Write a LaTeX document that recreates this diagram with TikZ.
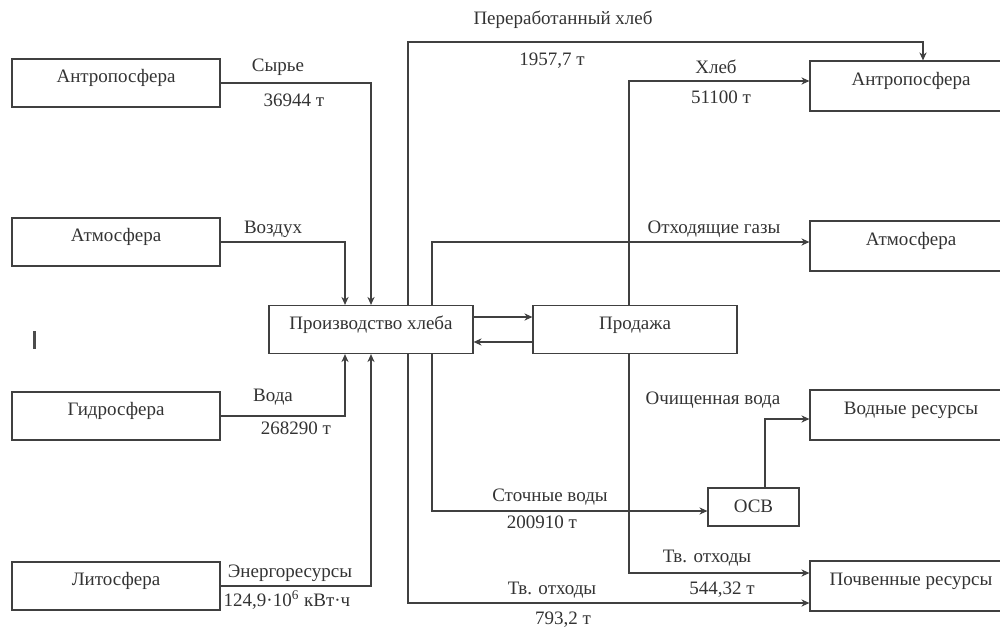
\documentclass[tikz,border=0pt]{standalone}
\usepackage{fontspec}
\setmainfont{Liberation Serif}
\usetikzlibrary{arrows.meta}

\begin{document}
\begin{tikzpicture}[
  x=0.5pt, y=-0.5pt,
  font=\fontsize{9.5}{11}\selectfont,
  box/.style={draw=black!75,line width=0.6pt,minimum width=104pt,minimum height=24pt,
    inner sep=0pt,text height=7pt,text depth=7.5pt,text=black!80},
  rbox/.style={box,minimum width=101pt,minimum height=25pt},
  small/.style={box,minimum width=45.5pt,minimum height=19pt,text height=7pt,text depth=2pt},
  flow/.style={draw=black!75,line width=0.6pt,-{Stealth[length=4pt,width=3.6pt]}},
  link/.style={draw=black!75,line width=0.6pt},
  lbl/.style={text=black!80,inner sep=0pt}
]
  \useasboundingbox (0,0) rectangle (1000,626);

  % sources
  \node[box] (srcA) at (116,83) {Антропосфера};
  \node[box] (srcB) at (116,242) {Атмосфера};
  \node[box] (srcC) at (116,416) {Гидросфера};
  \node[box] (srcD) at (116,586) {Литосфера};

  % processes
  \node[box,minimum width=102pt] (prod) at (371,329.5) {Производство хлеба};
  \node[box,minimum width=102pt] (sale) at (635,329.5) {Продажа};
  \node[small] (osv) at (753.5,507) {ОСВ};

  % sinks
  \node[rbox] (dstA) at (911,86) {Антропосфера};
  \node[rbox] (dstB) at (911,246) {Атмосфера};
  \node[rbox] (dstC) at (911,415) {Водные ресурсы};
  \node[rbox] (dstD) at (911,586) {Почвенные ресурсы};

  \coordinate (bend) at (408,42);

  % inputs
  \draw[flow] (srcA.east) -| (prod.north);
  \draw[flow] (srcB.east) -| ([xshift=-13pt]prod.north);
  \draw[flow] (srcC.east) -| ([xshift=-13pt]prod.south);
  \draw[flow] (srcD.east) -| (prod.south);

  % outputs
  \draw[flow] ([xshift=18.5pt]prod.north) -- (bend) -| ([xshift=6pt]dstA.north);
  \draw[flow] ([xshift=18.5pt]prod.south) |- ([yshift=-8.5pt]dstD.west);
  \draw[flow] ([xshift=30.5pt]prod.north) |- ([yshift=2pt]dstB.west);
  \draw[flow] ([xshift=30.5pt]prod.south) |- ([yshift=-2pt]osv.west);
  \draw[flow] ([yshift=6.25pt]prod.east) -- ([yshift=6.25pt]sale.west);
  \draw[flow] ([yshift=-6.25pt]sale.west) -- ([yshift=-6.25pt]prod.east);
  \draw[flow] ([xshift=-3pt]sale.north) |- ([yshift=2.5pt]dstA.west);
  \draw[flow] ([xshift=-3pt]sale.south) |- ([yshift=6.5pt]dstD.west);
  \draw[flow] ([xshift=5.75pt]osv.north) |- ([yshift=-2pt]dstC.west);

  % labels
  \node[lbl] (l1) at (278,67) {Сырье};
  \node[lbl] (v1) at (294,100) {36944 т};
  \node[lbl] (l2) at (273,229) {Воздух};
  \node[lbl] (l3) at (273,397) {Вода};
  \node[lbl] (v3) at (296,428) {268290 т};
  \node[lbl] (l4) at (290,573) {Энергоресурсы};
  \node[lbl] (v4) at (287,600) {124,9·10\textsuperscript{6} кВт·ч};
  \node[lbl] (l5) at (563,20) {Переработанный хлеб};
  \node[lbl] (v5) at (552,61) {1957,7 т};
  \node[lbl] (l6) at (716,67) {Хлеб};
  \node[lbl] (v6) at (721,97) {51100 т};
  \node[lbl] (l7) at (714,229) {Отходящие газы};
  \node[lbl] (l8) at (713,400) {Очищенная вода};
  \node[lbl] (l9) at (550,497) {Сточные воды};
  \node[lbl] (v9) at (542,522) {200910 т};
  \node[lbl] (l10) at (707,558) {Тв. отходы};
  \node[lbl] (v10) at (722,590) {544,32 т};
  \node[lbl] (l11) at (552,590) {Тв. отходы};
  \node[lbl] (v11) at (563,620) {793,2 т};

  \draw[line width=1.5pt,black!70] (34,331) -- (34,349);
\end{tikzpicture}
\end{document}
